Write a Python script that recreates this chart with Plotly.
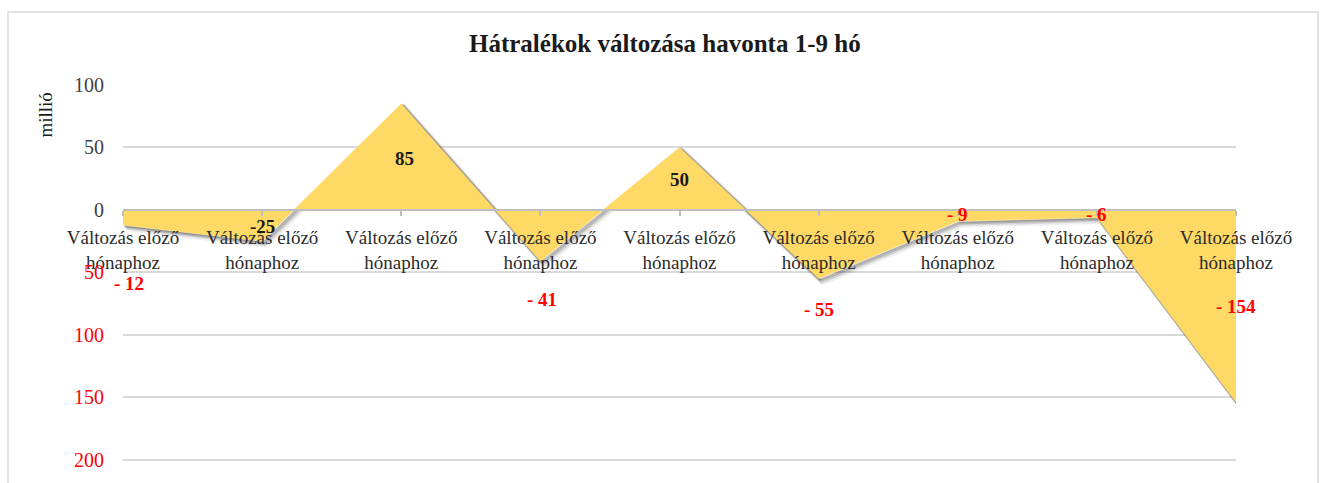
import plotly.graph_objects as go

# Monthly change of arrears (million), months 1-9
categories = [
    "Változás előző hónaphoz",
    "Változás előző hónaphoz",
    "Változás előző hónaphoz",
    "Változás előző hónaphoz",
    "Változás előző hónaphoz",
    "Változás előző hónaphoz",
    "Változás előző hónaphoz",
    "Változás előző hónaphoz",
    "Változás előző hónaphoz",
]
changes = [-12, -25, 85, -41, 50, -55, -9, -6, -154]

# where each value label sits (x offset in category units, y in axis units)
label_dx = [0.04, 0, 0.02, 0.01, 0, 0, 0, 0, 0]
label_y = [-59, -13, 41, -72, 24, -80, -4, -4, -77]
# label look: "neg" = red with spaced minus, "plain" = black as-is
label_kind = ["neg", "plain", "plain", "neg", "plain", "neg", "neg", "neg", "neg"]

y_ticks = [-200, -150, -100, -50, 0, 50, 100]
y_min, y_max = -201, 100

SERIF = "Liberation Serif"
FILL = "#FFD966"
GRID = "#D9D9D9"
AXIS = "#BFBFBF"

x_idx = list(range(len(changes)))

# plot area in pixels
W, H = 1323, 483
L, R, T, B = 123, 1323 - 1236, 85, 17
pw, ph = W - L - R, H - T - B
px_x = (len(changes) - 1) / pw      # category units per pixel
px_y = (y_max - y_min) / ph         # value units per pixel


def paper_x(px):
    return (px - L) / pw


def paper_y(py):
    return (H - B - py) / ph


fig = go.Figure()

# soft drop shadow under the area edges
for off, alpha, width in [(4, 0.08, 5), (3, 0.14, 3.5), (2, 0.22, 2.5), (1, 0.30, 1.5)]:
    fig.add_trace(go.Scatter(
        x=[i + off * px_x for i in x_idx],
        y=[v - off * px_y for v in changes],
        mode="lines",
        line=dict(color=f"rgba(50,50,50,{alpha})", width=width),
        hoverinfo="skip",
        showlegend=False,
    ))

fig.add_trace(go.Scatter(
    x=x_idx,
    y=changes,
    mode="lines",
    fill="tozeroy",
    fillcolor=FILL,
    line=dict(color=FILL, width=0.5),
    showlegend=False,
))

# value labels
for i, v in enumerate(changes):
    if label_kind[i] == "neg":
        txt = f"- {abs(v)}"
        col = "#FF0000"
    else:
        txt = f"{v}"
        col = "#1a1a1a"
    fig.add_annotation(
        x=i + label_dx[i], y=label_y[i], xref="x", yref="y",
        text=f"<b>{txt}</b>", showarrow=False,
        font=dict(family=SERIF, size=19, color=col),
    )

# y tick labels: negatives in red without sign
y_text = []
for t in y_ticks:
    if t < 0:
        y_text.append(f'<span style="color:#FF0000">{abs(t)}</span>')
    else:
        y_text.append(f"{t}")

fig.update_yaxes(
    range=[y_min, y_max],
    tickvals=y_ticks,
    ticktext=y_text,
    tickfont=dict(family=SERIF, size=20, color="#404040"),
    showgrid=True, gridcolor=GRID, gridwidth=1.5,
    zeroline=False, showline=False,
    ticks="", ticklabelstandoff=18,
)

fig.update_xaxes(
    range=[0, len(changes) - 1],
    tickvals=x_idx,
    ticktext=[c.replace(" hónaphoz", "<br>hónaphoz") for c in categories],
    tickfont=dict(family=SERIF, size=19, color="#2b2b2b"),
    anchor="free",
    position=(0 - y_min) / (y_max - y_min),
    showgrid=False, zeroline=False,
    showline=True, linecolor=AXIS, linewidth=1.5,
    ticks="outside", ticklen=5, tickcolor=AXIS, tickwidth=1.5,
    ticklabelstandoff=6,
)

# chart title and axis title
fig.add_annotation(
    x=paper_x(665), y=paper_y(43), xref="paper", yref="paper",
    text="<b>Hátralékok változása havonta 1-9 hó</b>", showarrow=False,
    font=dict(family=SERIF, size=25, color="#1a1a1a"),
    xanchor="center", yanchor="middle",
)
fig.add_annotation(
    x=paper_x(46), y=paper_y(116), xref="paper", yref="paper",
    text="millió", showarrow=False, textangle=-90,
    font=dict(family=SERIF, size=19, color="#1a1a1a"),
    xanchor="center", yanchor="middle",
)

# outer chart frame
fig.add_shape(
    type="rect", xref="paper", yref="paper",
    x0=paper_x(8), x1=paper_x(1318), y0=paper_y(11), y1=paper_y(495),
    line=dict(color=GRID, width=1.5), fillcolor="rgba(0,0,0,0)",
    layer="below",
)

fig.update_layout(
    width=W, height=H,
    margin=dict(l=L, r=R, t=T, b=B),
    paper_bgcolor="white", plot_bgcolor="white",
    showlegend=False,
)

fig.write_html("out.html")
